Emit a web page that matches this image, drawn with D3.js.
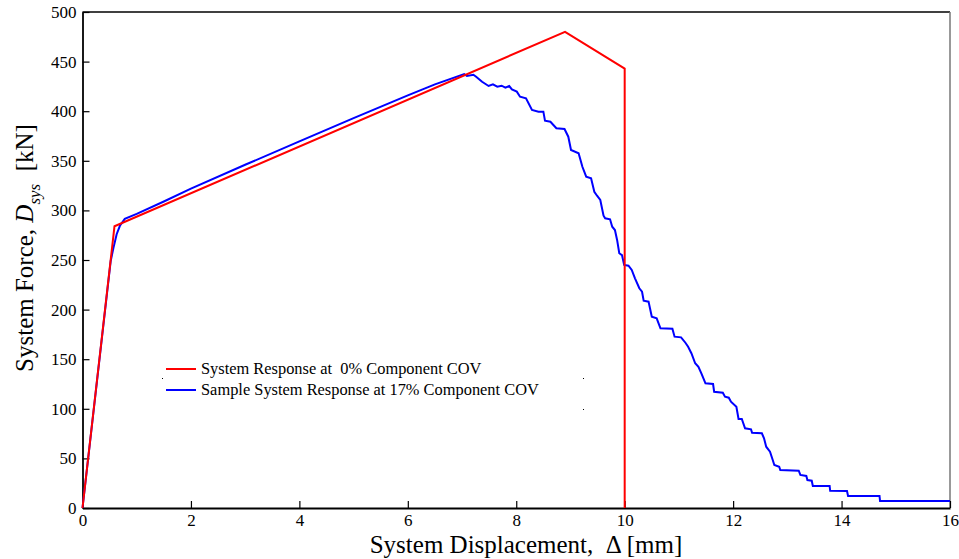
<!DOCTYPE html>
<html>
<head>
<meta charset="utf-8">
<script src="https://cdn.jsdelivr.net/npm/d3@7"></script>
<style>
  body { margin: 0; background: #fff; }
  svg { font-family: "Liberation Serif", "Times New Roman", serif; }
</style>
</head>
<body>
<svg id="chart" width="959" height="559"></svg>
<script>
// red: system response at 0% COV (displacement mm, force kN)
var redX = [0, 0.59, 8.9, 10.0, 10.0];
var redY = [0, 284, 480, 443, 0];

// blue: sample system response at 17% COV
var blueX = [0, 0.52, 0.57, 0.63, 0.69, 0.78, 1.0, 1.5, 2, 3, 4, 5, 6, 6.5, 7.04,
  7.09, 7.21, 7.26, 7.37, 7.49, 7.57, 7.65, 7.73, 7.80, 7.87, 7.92, 8.01, 8.07, 8.18, 8.29,
  8.41, 8.50, 8.53, 8.63, 8.74, 8.89, 8.96, 9.01, 9.15, 9.22, 9.29, 9.38, 9.44, 9.49,
  9.55, 9.61, 9.64, 9.73, 9.77, 9.82, 9.86, 9.90, 9.95, 9.99, 10.07, 10.13, 10.19, 10.27,
  10.32, 10.35, 10.44, 10.50, 10.59, 10.66, 10.88, 10.92, 11.04, 11.12, 11.17, 11.23,
  11.30, 11.36, 11.42, 11.49, 11.63, 11.65, 11.81, 11.85, 11.92, 11.96, 12.06, 12.10,
  12.16, 12.22, 12.33, 12.35, 12.53, 12.57, 12.61, 12.68, 12.72, 12.76, 12.85, 12.87,
  13.21, 13.24, 13.35, 13.37, 13.45, 13.47, 13.78, 13.79, 14.10, 14.12, 14.70, 14.71, 16];
var blueY = [0, 249, 262, 276, 284.5, 291.5, 296.5, 309, 322, 346, 369.5, 393, 416, 427, 437.5,
  435.5, 436.8, 434.8, 429.7, 425.4, 427.1, 424.7, 425.7, 423.7, 425.4, 422, 419.7, 414.6, 413, 401.2,
  399.5, 399.5, 390.4, 389.4, 382.8, 382, 374.3, 360.9, 357.6, 344, 334, 332.4, 318.8, 314.8,
  310.5, 294.7, 292, 291, 283.6, 280.2, 270.2, 256.8, 255, 245, 244.3, 240, 231.5, 221.5,
  218, 209, 208, 192.8, 191.2, 181.2, 180.7, 172.7, 172, 166.6, 162.6, 156,
  145.9, 142.4, 135, 125.7, 125, 117.2, 116.2, 112.2, 111.2, 107.2, 102.1, 89.7,
  89.7, 80.3, 79.3, 75.9, 75.3, 70.3, 61.8, 56.8, 50.1, 43.3, 41.6, 38.3,
  37.6, 33.3, 32.3, 28.2, 27.5, 22.2, 22.2, 17.4, 17.1, 12.1, 12.1, 7, 7];

var xTicks = [0, 2, 4, 6, 8, 10, 12, 14, 16];
var yTicks = [0, 50, 100, 150, 200, 250, 300, 350, 400, 450, 500];

var legendLabels = ["System Response at\u00a0\u00a00% Component COV",
                    "Sample System Response at 17% Component COV"];
var lineColors = ["#ff0000", "#0000ff"];

var svg = d3.select("#chart");
var plotLeft = 82.5, plotRight = 950, plotTop = 12, plotBottom = 508;

var xScale = d3.scaleLinear().domain([0, 16]).range([plotLeft, plotRight]);
var yScale = d3.scaleLinear().domain([0, 500]).range([plotBottom, plotTop]);

// frame
svg.append("line").attr("x1", plotLeft).attr("x2", plotRight).attr("y1", plotTop).attr("y2", plotTop)
  .attr("stroke", "#000").attr("stroke-width", 1.5);
svg.append("line").attr("x1", plotRight).attr("x2", plotRight).attr("y1", plotTop).attr("y2", plotBottom)
  .attr("stroke", "#777").attr("stroke-width", 1.5);

var xAxis = svg.append("g")
  .attr("transform", "translate(0," + plotBottom + ")")
  .call(d3.axisBottom(xScale).tickValues(xTicks).tickFormat(d3.format("d"))
    .tickSizeInner(-7).tickSizeOuter(0).tickPadding(7));

var yAxis = svg.append("g")
  .attr("transform", "translate(" + plotLeft + ",0)")
  .call(d3.axisLeft(yScale).tickValues(yTicks).tickFormat(d3.format("d"))
    .tickSizeInner(-7).tickSizeOuter(0).tickPadding(6));

[xAxis, yAxis].forEach(function(ax) {
  ax.select(".domain").attr("stroke", "#000").attr("stroke-width", 1.8);
  ax.selectAll(".tick line").attr("stroke", "#000").attr("stroke-width", 1.2);
  ax.selectAll("text").attr("fill", "#000")
    .style("font-family", "'Liberation Serif', serif").style("font-size", "17px");
});
xAxis.selectAll(".tick text").attr("dy", "0.62em");

// curves
var line = d3.line().x(d => xScale(d[0])).y(d => yScale(d[1]));

var redData = redX.map((x, i) => [x, redY[i]]);
var blueData = blueX.map((x, i) => [x, blueY[i]]);

svg.append("path").datum(blueData).attr("d", line)
  .attr("fill", "none").attr("stroke", lineColors[1]).attr("stroke-width", 2);
svg.append("path").datum(redData).attr("d", line)
  .attr("fill", "none").attr("stroke", lineColors[0]).attr("stroke-width", 2);

// legend
var legend = svg.append("g");
legendLabels.forEach(function(lbl, i) {
  var y = 369 + i * 21;
  legend.append("line").attr("x1", 166).attr("x2", 196).attr("y1", y).attr("y2", y)
    .attr("stroke", lineColors[i]).attr("stroke-width", 2);
  legend.append("text").attr("x", 201).attr("y", y + 5)
    .style("font-size", "16.4px").attr("fill", "#000").text(lbl);
});
[[162, 378], [583, 378], [583, 409]].forEach(function(p) {
  legend.append("rect").attr("x", p[0]).attr("y", p[1]).attr("width", 1).attr("height", 1).attr("fill", "#000");
});

// axis labels
svg.append("text").attr("x", 526).attr("y", 553).attr("text-anchor", "middle")
  .style("font-size", "25px").attr("fill", "#000")
  .text("System Displacement,\u00a0 \u0394 [mm]");

var yl = svg.append("text").attr("transform", "translate(33,248) rotate(-90)")
  .attr("text-anchor", "middle").style("font-size", "25px").attr("fill", "#000");
yl.append("tspan").text("System Force,\u00a0");
yl.append("tspan").style("font-style", "italic").text("D");
yl.append("tspan").style("font-style", "italic").style("font-size", "17px").attr("dy", 7).text("sys");
yl.append("tspan").attr("dy", -7).text("\u00a0\u00a0[kN]");
</script>
</body>
</html>
